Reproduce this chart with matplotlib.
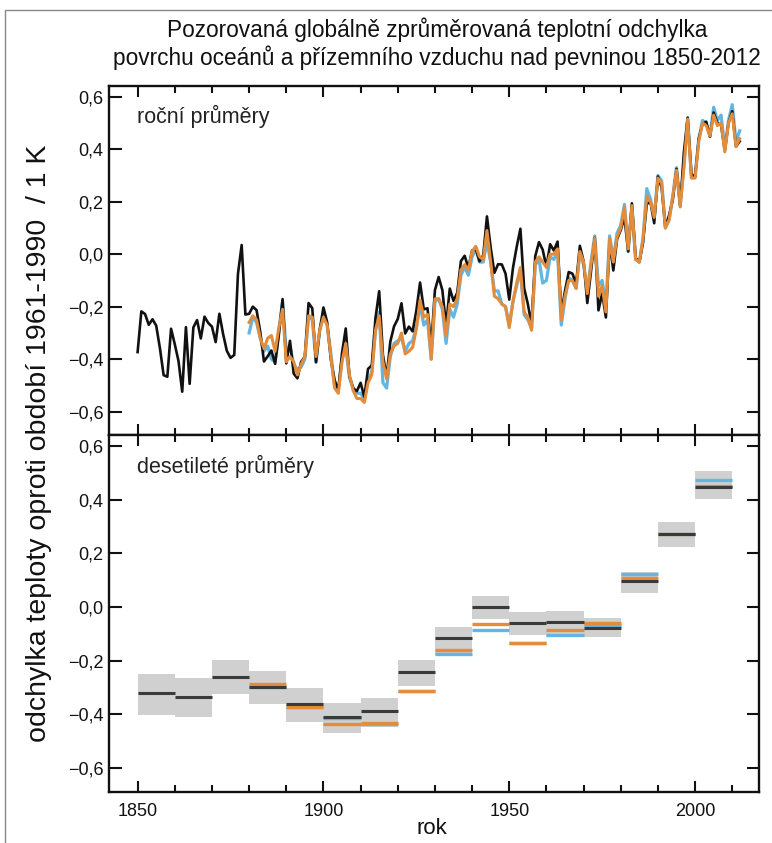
import numpy as np
import matplotlib
matplotlib.use("Agg")
import matplotlib.pyplot as plt
from matplotlib.patches import Rectangle

plt.rcParams['font.family'] = ['Liberation Sans', 'DejaVu Sans']

# rocni prumery (odchylka od 1961-1990, K)
years_had = list(range(1850, 2013))
had_annual = [
    -0.373, -0.218, -0.228, -0.269, -0.248, -0.272, -0.358, -0.461, -0.467, -0.284,
    -0.343, -0.407, -0.524, -0.278, -0.494, -0.279, -0.251, -0.321, -0.238, -0.262,
    -0.276, -0.335, -0.227, -0.304, -0.368, -0.395, -0.384, -0.075, 0.035, -0.230,
    -0.227, -0.200, -0.213, -0.296, -0.409, -0.389, -0.367, -0.418, -0.307, -0.171,
    -0.416, -0.330, -0.455, -0.473, -0.410, -0.390, -0.186, -0.206, -0.412, -0.289,
    -0.203, -0.259, -0.402, -0.479, -0.520, -0.377, -0.283, -0.465, -0.511, -0.522,
    -0.490, -0.544, -0.437, -0.424, -0.244, -0.141, -0.383, -0.468, -0.333, -0.275,
    -0.247, -0.187, -0.302, -0.276, -0.294, -0.215, -0.108, -0.210, -0.206, -0.350,
    -0.137, -0.087, -0.137, -0.273, -0.131, -0.178, -0.147, -0.026, -0.006, -0.052,
    0.014, 0.020, -0.027, -0.004, 0.144, 0.025, -0.071, -0.038, -0.039, -0.074,
    -0.173, -0.052, 0.028, 0.097, -0.129, -0.190, -0.267, -0.007, 0.046, 0.017,
    -0.049, 0.038, 0.014, 0.048, -0.223, -0.140, -0.068, -0.074, -0.113, 0.032,
    -0.027, -0.186, -0.065, 0.062, -0.214, -0.149, -0.241, 0.047, -0.062, 0.057,
    0.092, 0.140, 0.011, 0.194, -0.014, -0.030, 0.045, 0.192, 0.198, 0.118,
    0.296, 0.254, 0.105, 0.148, 0.208, 0.325, 0.183, 0.390, 0.520, 0.306,
    0.294, 0.441, 0.496, 0.505, 0.447, 0.540, 0.500, 0.491, 0.395, 0.500,
    0.545, 0.410, 0.430,
]

years_other = list(range(1880, 2013))
ncdc_annual = [
    -0.26, -0.235, -0.25, -0.32, -0.36, -0.32, -0.31, -0.37, -0.28, -0.21,
    -0.41, -0.39, -0.41, -0.46, -0.42, -0.39, -0.235, -0.24, -0.39, -0.29,
    -0.24, -0.27, -0.39, -0.51, -0.53, -0.41, -0.34, -0.46, -0.52, -0.55,
    -0.55, -0.565, -0.49, -0.46, -0.29, -0.235, -0.41, -0.475, -0.38, -0.35,
    -0.34, -0.30, -0.38, -0.37, -0.355, -0.285, -0.175, -0.24, -0.23, -0.40,
    -0.17, -0.17, -0.20, -0.31, -0.19, -0.20, -0.17, -0.06, -0.04, -0.06,
    0.01, 0.03, -0.01, -0.02, 0.09, -0.03, -0.16, -0.17, -0.19, -0.20,
    -0.28, -0.18, -0.11, -0.05, -0.22, -0.24, -0.29, -0.03, -0.01, -0.03,
    -0.05, 0.0, 0.0, 0.02, -0.25, -0.16, -0.10, -0.10, -0.13, 0.01,
    -0.03, -0.15, -0.04, 0.06, -0.16, -0.12, -0.22, 0.06, -0.03, 0.065,
    0.10, 0.18, 0.02, 0.185, -0.02, -0.03, 0.06, 0.22, 0.20, 0.14,
    0.29, 0.27, 0.10, 0.13, 0.22, 0.32, 0.18, 0.33, 0.515, 0.29,
    0.29, 0.43, 0.50, 0.49, 0.45, 0.53, 0.49, 0.50, 0.39, 0.50,
    0.535, 0.41, 0.44,
]
giss_annual = [
    -0.30, -0.24, -0.26, -0.32, -0.37, -0.35, -0.40, -0.41, -0.29, -0.18,
    -0.37, -0.35, -0.42, -0.44, -0.43, -0.40, -0.235, -0.25, -0.41, -0.29,
    -0.23, -0.27, -0.38, -0.50, -0.52, -0.40, -0.355, -0.47, -0.51, -0.53,
    -0.53, -0.55, -0.48, -0.45, -0.29, -0.22, -0.49, -0.51, -0.39, -0.34,
    -0.33, -0.32, -0.37, -0.34, -0.33, -0.28, -0.19, -0.27, -0.25, -0.40,
    -0.18, -0.17, -0.21, -0.34, -0.21, -0.24, -0.19, -0.08, -0.05, -0.08,
    -0.01, 0.02, -0.03, -0.03, 0.05, -0.03, -0.14, -0.14, -0.19, -0.20,
    -0.27, -0.18, -0.12, -0.06, -0.23, -0.25, -0.28, -0.04, -0.02, -0.11,
    -0.10, -0.01, -0.02, 0.01, -0.27, -0.17, -0.09, -0.10, -0.13, 0.01,
    -0.04, -0.14, -0.03, 0.07, -0.12, -0.10, -0.20, 0.07, -0.02, 0.08,
    0.11, 0.19, 0.01, 0.185, -0.02, -0.03, 0.06, 0.25, 0.21, 0.14,
    0.30, 0.28, 0.10, 0.13, 0.22, 0.33, 0.19, 0.34, 0.52, 0.30,
    0.30, 0.44, 0.51, 0.50, 0.45, 0.56, 0.51, 0.53, 0.40, 0.51,
    0.57, 0.43, 0.47,
]

# desetilete prumery
decades = list(range(1850, 2010, 10))
had_decadal = [-0.322, -0.335, -0.26, -0.297, -0.36, -0.409, -0.387, -0.242,
               -0.117, -0.001, -0.06, -0.055, -0.077, 0.096, 0.271, 0.448]
had_low = [-0.403, -0.411, -0.325, -0.362, -0.43, -0.471, -0.446, -0.295,
           -0.18, -0.046, -0.103, -0.111, -0.111, 0.053, 0.222, 0.401]
had_high = [-0.248, -0.266, -0.198, -0.239, -0.301, -0.356, -0.337, -0.198,
            -0.073, 0.041, -0.02, -0.016, -0.042, 0.132, 0.318, 0.507]
decades_other = list(range(1880, 2010, 10))
ncdc_decadal = [-0.288, -0.372, -0.437, -0.431, -0.312, -0.16, -0.062, -0.135,
                -0.086, -0.06, 0.11, 0.272, 0.452]
giss_decadal = [-0.297, -0.372, -0.415, -0.437, -0.312, -0.174, -0.086, -0.135,
                -0.104, -0.065, 0.123, 0.272, 0.473]

yticks = [-0.6, -0.4, -0.2, 0.0, 0.2, 0.4, 0.6]
ytick_labels = ["\u22120,6", "\u22120,4", "\u22120,2", "0,0", "0,2", "0,4", "0,6"]
xticks = [1850, 1900, 1950, 2000]

orange = "#e38c3b"
blue = "#63b5e2"

W, H = 772, 843
fig = plt.figure(figsize=(W / 100, H / 100), dpi=100)

left = 109 / W
width = (759 - 109) / W
ax1 = fig.add_axes([left, 1 - 435 / H, width, (435 - 86) / H])
ax2 = fig.add_axes([left, 1 - 792 / H, width, (792 - 435) / H])

ax1.plot(years_other, giss_annual, color=blue, lw=2.3, zorder=2)
ax1.plot(years_had, had_annual, color="#111111", lw=1.9, zorder=3)
ax1.plot(years_other, ncdc_annual, color=orange, lw=2.2, zorder=4)

for i, d in enumerate(decades):
    ax2.add_patch(Rectangle((d, had_low[i]), 10, had_high[i] - had_low[i],
                            facecolor="#d0d0d0", edgecolor="none", zorder=1))
for i, d in enumerate(decades_other):
    ax2.plot([d, d + 10], [giss_decadal[i]] * 2, color=blue, lw=2.4, solid_capstyle="butt", zorder=2)
    ax2.plot([d, d + 10], [ncdc_decadal[i]] * 2, color=orange, lw=2.4, solid_capstyle="butt", zorder=3)
for i, d in enumerate(decades):
    ax2.plot([d, d + 10], [had_decadal[i]] * 2, color="#3a3a3a", lw=2.2, solid_capstyle="butt", zorder=4)

for ax in (ax1, ax2):
    ax.set_xlim(1842.3, 2017.2)
    ax.set_ylim(-0.689, 0.641)
    ax.set_yticks(yticks)
    ax.set_yticklabels(ytick_labels)
    ax.set_xticks(xticks)
    ax.set_xticks(list(range(1850, 2020, 10)), minor=True)
    ax.tick_params(axis="both", which="both", direction="in", top=True, right=True,
                   width=1.5, labelsize=13, colors="#111111")
    ax.tick_params(axis="y", which="major", length=9, pad=4)
    ax.tick_params(axis="x", which="major", length=8, pad=8)
    ax.tick_params(axis="x", which="minor", length=5)
    for sp in ax.spines.values():
        sp.set_linewidth(1.7)
        sp.set_color("#111111")

ax1.tick_params(axis="x", labelbottom=False)

ax1.text(0.043, 0.894, "roční průměry", transform=ax1.transAxes, fontsize=15.5,
         ha="left", va="baseline", color="#222222")
ax2.text(0.043, 0.894, "desetileté průměry", transform=ax2.transAxes, fontsize=15.5,
         ha="left", va="baseline", color="#222222")

fig.text(437 / W, 1 - 37 / H, "Pozorovaná globálně zprůměrovaná teplotní odchylka",
         ha="center", va="baseline", fontsize=16.3, color="#111111")
fig.text(437 / W, 1 - 65 / H, "povrchu oceánů a přízemního vzduchu nad pevninou 1850-2012",
         ha="center", va="baseline", fontsize=16.3, color="#111111")
fig.text(39 / W, 1 - 443 / H, "odchylka teploty oproti období 1961-1990  / 1 K",
         rotation=90, ha="center", va="center", fontsize=20.5, color="#111111")
fig.text(432 / W, 1 - 829 / H, "rok", ha="center", va="center", fontsize=16, color="#111111")

# ramecek kolem obrazku
fig.add_artist(Rectangle((4.5 / W, -0.05), 1.2, 1 - 10 / H + 0.05, transform=fig.transFigure,
                         fill=False, edgecolor="#888888", lw=1.0))

fig.savefig("out.png", dpi=100)
